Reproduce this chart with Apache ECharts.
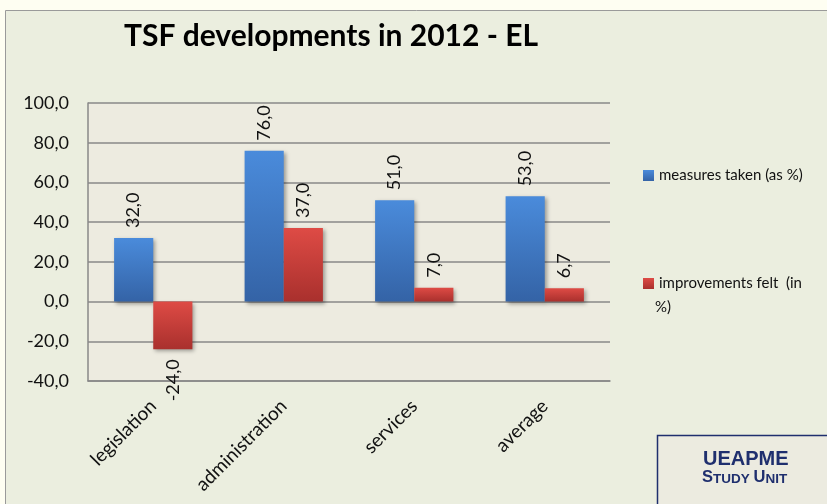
<!DOCTYPE html>
<html><head><meta charset="utf-8">
<script src="https://cdn.jsdelivr.net/npm/echarts@6/dist/echarts.min.js"></script>
<style>html,body{margin:0;padding:0;background:#FEFEF2}#c{width:827px;height:504px}</style>
</head><body><div id="c"></div>
<script>
const categories = ['legislation', 'administration', 'services', 'average'];
const measuresTaken = [32.0, 76.0, 51.0, 53.0];
const improvementsFelt = [-24.0, 37.0, 7.0, 6.7];
const yTicks = { min: -40, max: 100, interval: 20 };
const seriesNames = ['measures taken (as %)', 'improvements felt  (in %)'];

const fmt = v => v.toFixed(1).replace('.', ',');
const chart = echarts.init(document.getElementById('c'));
const font = 'Lato, "Open Sans", sans-serif';
const sans = '"Liberation Sans", Arial, sans-serif';

function barData(arr) {
  return arr.map(v => v < 0 ? {
    value: v,
    label: { position: 'bottom', align: 'right' }
  } : v);
}
function grad(top, bottom) {
  return new echarts.graphic.LinearGradient(0, 0, 0, 1, [
    { offset: 0, color: top }, { offset: 1, color: bottom }
  ]);
}
const labelCfg = {
  show: true, position: 'top', rotate: 90, align: 'left', verticalAlign: 'middle',
  distance: 10, fontSize: 18, color: '#111', fontFamily: font,
  formatter: p => fmt(p.value)
};

chart.setOption({
  backgroundColor: '#FEFEF2',
  animation: false,
  graphic: [
    { type: 'rect', z: -10, shape: { x: 5.5, y: 10.5, width: 830, height: 500 },
      style: { fill: '#EBEEDF', stroke: '#9a9a9a', lineWidth: 1 } },
    { type: 'rect', z: -5, shape: { x: 88, y: 103, width: 522, height: 278 },
      style: { fill: '#EDEBE0' } },
    { type: 'rect', shape: { x: 657.5, y: 435.5, width: 200, height: 100 },
      style: { fill: '#ECEBE0', stroke: '#1F2F6E', lineWidth: 1.5 } },
    { type: 'text', left: 703, top: 449,
      style: { text: 'UEAPME', fill: '#1F2F6E', font: 'bold 20px ' + sans } },
    { type: 'text', left: 702, top: 469,
      style: {
        text: '{b|S}{s|TUDY }{b|U}{s|NIT}',
        rich: {
          b: { fontSize: 16.5, fontWeight: 'bold', fill: '#1F2F6E', fontFamily: sans, verticalAlign: 'bottom' },
          s: { fontSize: 13.5, fontWeight: 'bold', fill: '#1F2F6E', fontFamily: sans, verticalAlign: 'bottom' }
        }
      } },
    { type: 'text', left: 655, top: 300,
      style: { text: '%)', fill: '#111', font: '15px ' + font } }
  ],
  title: {
    text: 'TSF developments in 2012 - EL',
    left: 119, top: 16,
    textStyle: { fontSize: 30, fontWeight: 'bold', color: '#000', fontFamily: font }
  },
  legend: {
    orient: 'vertical', left: 638, top: 163, itemGap: 93,
    itemWidth: 11, itemHeight: 11, icon: 'rect',
    data: seriesNames,
    formatter: n => n === seriesNames[1] ? 'improvements felt  (in' : n,
    textStyle: { fontSize: 15, color: '#111', fontFamily: font }
  },
  grid: { left: 88, right: 217, top: 103, bottom: 123 },
  xAxis: {
    type: 'category', data: categories,
    axisLine: { onZero: false, lineStyle: { color: '#888', width: 1.5 } },
    axisTick: { show: false },
    axisLabel: { rotate: 45, fontSize: 19, color: '#111', fontFamily: font, margin: 22 }
  },
  yAxis: {
    type: 'value', min: yTicks.min, max: yTicks.max, interval: yTicks.interval,
    axisLine: { show: true, lineStyle: { color: '#888', width: 1.5 } },
    axisTick: { show: false },
    splitLine: { lineStyle: { color: '#888', width: 1.5 } },
    axisLabel: { fontSize: 18, color: '#111', fontFamily: font, margin: 19, formatter: v => fmt(v) }
  },
  series: [
    { name: seriesNames[0], type: 'bar', data: barData(measuresTaken),
      barWidth: '30%', barGap: '0%',
      itemStyle: { color: grad('#4A8BDB', '#3463A6'), shadowBlur: 4, shadowColor: 'rgba(0,0,0,0.35)', shadowOffsetX: 2, shadowOffsetY: 2 },
      label: labelCfg },
    { name: seriesNames[1], type: 'bar', data: barData(improvementsFelt),
      barWidth: '30%', barGap: '0%',
      itemStyle: { color: grad('#DE4B45', '#A9302D'), shadowBlur: 4, shadowColor: 'rgba(0,0,0,0.35)', shadowOffsetX: 2, shadowOffsetY: 2 },
      label: labelCfg }
  ]
});
</script></body></html>
